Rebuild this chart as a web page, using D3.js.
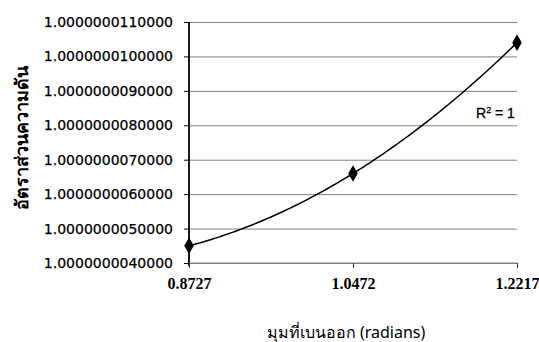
<!DOCTYPE html>
<html>
<head>
<meta charset="utf-8">
<script src="https://cdn.jsdelivr.net/npm/d3@7"></script>
<style>
  html, body { margin: 0; padding: 0; background: #fff; }
  svg { display: block; }
</style>
</head>
<body>
<svg id="chart" width="539" height="342"></svg>
<script>
// Deflection angle (radians) vs. pressure ratio
const angles = [0.8727, 1.0472, 1.2217];
const pressureRatio = [1.0000000045, 1.0000000066, 1.0000000104];
const xTickValues = [0.8727, 1.0472, 1.2217];
const xTickLabels = ["0.8727", "1.0472", "1.2217"];
const yTickValues = [1.000000004, 1.000000005, 1.000000006, 1.000000007, 1.000000008, 1.000000009, 1.000000010, 1.000000011];
const yTickLabels = ["1.0000000040000", "1.0000000050000", "1.0000000060000", "1.0000000070000",
                     "1.0000000080000", "1.0000000090000", "1.0000000100000", "1.0000000110000"];
const xTitle = "มุมที่เบนออก (radians)";
const yTitle = "อัตราส่วนความดัน";

const svg = d3.select("#chart");
const plot = { left: 189, right: 517, top: 22, bottom: 263 };

const x = d3.scaleLinear().domain([0.8727, 1.2217]).range([plot.left, plot.right]);
const y = d3.scaleLinear().domain([1.000000004, 1.000000011]).range([plot.bottom, plot.top]);

// horizontal gridlines
const grid = svg.append("g").attr("transform", `translate(${plot.left},0)`)
  .call(d3.axisLeft(y).tickValues(yTickValues).tickSize(-(plot.right - plot.left)).tickFormat(""));
grid.select(".domain").remove();
grid.selectAll(".tick line").attr("stroke", "#808080").attr("stroke-width", 1);

// y axis
const yAxis = svg.append("g").attr("transform", `translate(${plot.left},0)`)
  .call(d3.axisLeft(y).tickValues(yTickValues).tickSize(5).tickPadding(11)
    .tickFormat((d, i) => yTickLabels[i]));
yAxis.select(".domain").attr("stroke", "#000").attr("stroke-width", 1.8)
  .attr("d", `M0,${plot.top}V${plot.bottom + 3}`);
yAxis.selectAll(".tick line").attr("stroke", "#000");
yAxis.selectAll(".tick text")
  .attr("font-family", "DejaVu Sans, sans-serif").attr("font-size", 14)
  .attr("fill", "#000").attr("stroke", "#000").attr("stroke-width", 0.25);

// x axis
const xAxis = svg.append("g").attr("transform", `translate(0,${plot.bottom})`)
  .call(d3.axisBottom(x).tickValues(xTickValues).tickSize(5).tickPadding(10)
    .tickFormat((d, i) => xTickLabels[i]));
xAxis.select(".domain").attr("stroke", "#808080").attr("d", `M${plot.left},0H${plot.right}`);
xAxis.selectAll(".tick line").attr("stroke", "#333");
xAxis.selectAll(".tick text")
  .attr("font-family", "Liberation Serif, serif").attr("font-weight", "bold")
  .attr("font-size", 16).attr("fill", "#000");

// second-order polynomial trendline through the three points (Lagrange form)
const off = pressureRatio.map(v => (v - 1) * 1e9);
function quad(t) {
  let s = 0;
  for (let i = 0; i < 3; i++) {
    let term = off[i];
    for (let j = 0; j < 3; j++) if (j !== i) term *= (t - angles[j]) / (angles[i] - angles[j]);
    s += term;
  }
  return 1 + s / 1e9;
}
const samples = d3.range(0, 101).map(k => angles[0] + (angles[2] - angles[0]) * k / 100);
svg.append("path")
  .datum(samples)
  .attr("fill", "none").attr("stroke", "#000").attr("stroke-width", 1.5)
  .attr("d", d3.line().x(d => x(d)).y(d => y(quad(d))));

// markers
svg.append("g").selectAll("path")
  .data(angles.map((a, i) => [a, pressureRatio[i]]))
  .join("path")
  .attr("transform", d => `translate(${x(d[0])},${y(d[1])})`)
  .attr("d", d3.symbol(d3.symbolDiamond, 80))
  .attr("fill", "#000");

// R² label
const r2 = svg.append("text")
  .attr("x", 476).attr("y", 118)
  .attr("font-family", "Liberation Sans, sans-serif").attr("font-size", 14)
  .attr("fill", "#000").attr("stroke", "#000").attr("stroke-width", 0.3);
r2.append("tspan").text("R");
r2.append("tspan").attr("dy", -5).attr("font-size", 9).text("2");
r2.append("tspan").attr("dy", 5).text(" = 1");

// axis titles
svg.append("text")
  .attr("x", 346).attr("y", 338).attr("text-anchor", "middle")
  .attr("font-family", "Noto Sans, sans-serif").attr("font-size", 16).attr("fill", "#000")
  .text(xTitle);

svg.append("text")
  .attr("transform", "translate(28,138) rotate(-90)")
  .attr("text-anchor", "middle")
  .attr("font-family", "Noto Sans, sans-serif").attr("font-weight", "bold")
  .attr("font-size", 18).attr("fill", "#000")
  .text(yTitle);
</script>
</body>
</html>
